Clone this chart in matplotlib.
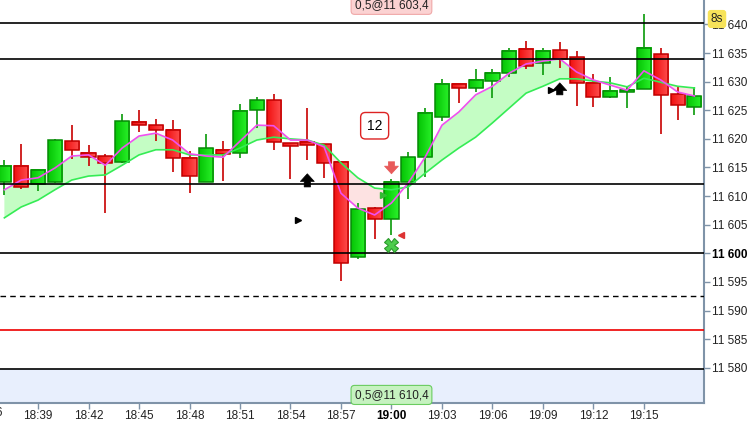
import numpy as np
import matplotlib.pyplot as plt
import matplotlib.transforms as mtransforms
from matplotlib.patches import Rectangle
from matplotlib.colors import LinearSegmentedColormap
from matplotlib.ticker import FixedLocator, FuncFormatter

plt.rcParams["font.family"] = ["Liberation Sans", "DejaVu Sans"]

# -------------------------------
# Data (1-minute candles, first one at 18:37)
# -------------------------------
first_candle = "18:37"

opens = [11612.5, 11615.3, 11612.1, 11612.5, 11619.6, 11617.5, 11617.0, 11616.0, 11623.0, 11622.4,
         11621.6, 11616.7, 11612.5, 11618.1, 11617.5, 11625.1, 11626.8, 11619.3, 11619.5, 11619.1,
         11616.0, 11599.4, 11607.9, 11606.0, 11612.5, 11616.8, 11623.8, 11629.6, 11628.9, 11630.1,
         11631.5, 11635.7, 11633.3, 11635.5, 11634.3, 11629.8, 11627.3, 11628.2, 11628.7, 11634.8,
         11627.8, 11625.6]
highs = [11616.3, 11619.1, 11614.7, 11619.9, 11622.4, 11618.9, 11617.4, 11624.4, 11625.1, 11623.5,
         11623.3, 11617.9, 11620.9, 11619.6, 11626.1, 11627.3, 11627.8, 11619.3, 11625.4, 11619.1,
         11616.0, 11608.8, 11608.1, 11613.0, 11617.7, 11625.4, 11630.5, 11629.6, 11632.2, 11632.2,
         11635.9, 11637.1, 11635.9, 11636.9, 11635.4, 11631.3, 11630.8, 11629.1, 11641.8, 11635.9,
         11629.1, 11629.1]
lows = [11610.2, 11611.2, 11610.9, 11612.3, 11616.5, 11615.3, 11607.0, 11615.8, 11621.2, 11619.6,
        11614.2, 11610.5, 11612.5, 11612.6, 11616.7, 11621.9, 11618.1, 11613.0, 11616.3, 11613.2,
        11595.2, 11599.0, 11602.5, 11603.2, 11609.5, 11613.3, 11623.1, 11626.3, 11628.2, 11627.2,
        11630.8, 11632.2, 11631.2, 11632.4, 11625.8, 11625.6, 11627.2, 11625.4, 11628.7, 11620.9,
        11623.3, 11624.2]
closes = [11615.3, 11611.6, 11614.6, 11619.8, 11618.1, 11616.8, 11615.8, 11623.1, 11622.4, 11621.6,
          11616.7, 11613.5, 11618.4, 11617.4, 11624.9, 11626.8, 11619.5, 11618.8, 11618.9, 11615.8,
          11598.3, 11607.7, 11606.0, 11612.5, 11616.8, 11624.5, 11629.6, 11628.9, 11630.3, 11631.5,
          11635.4, 11632.7, 11635.4, 11634.0, 11629.8, 11627.3, 11628.4, 11628.6, 11635.9, 11627.7,
          11625.9, 11627.5]

ma_fast = [11611.1, 11612.8, 11613.2, 11614.9, 11617.0, 11617.2, 11615.4, 11618.4, 11620.5, 11621.0,
           11619.8, 11617.4, 11617.0, 11616.8, 11619.6, 11622.4, 11622.3, 11619.8, 11619.8, 11618.6,
           11610.5, 11607.9, 11606.7, 11608.8, 11612.3, 11616.8, 11622.4, 11624.7, 11627.7, 11629.2,
           11631.5, 11633.1, 11633.6, 11634.0, 11631.7, 11630.3, 11629.4, 11628.5, 11631.9, 11630.3,
           11628.2, 11627.5]
ma_slow = [11606.2, 11608.1, 11609.3, 11611.1, 11612.8, 11613.5, 11613.7, 11615.4, 11617.2, 11618.1,
           11618.1, 11617.2, 11617.2, 11617.2, 11618.4, 11619.8, 11620.3, 11620.0, 11619.8, 11618.9,
           11615.8, 11613.2, 11611.4, 11611.1, 11611.6, 11614.0, 11616.3, 11618.4, 11620.3, 11622.8,
           11625.4, 11628.0, 11629.2, 11630.5, 11630.5, 11630.1, 11629.8, 11629.1, 11630.6, 11629.9,
           11629.2, 11628.9]

levels_solid = [11640.2, 11633.9, 11612.2, 11600.0, 11579.7]
level_dashed = 11592.6
level_red = 11586.6

time_ticks = ["18:36", "18:39", "18:42", "18:45", "18:48", "18:51", "18:54", "18:57",
              "19:00", "19:03", "19:06", "19:09", "19:12", "19:15"]
price_ticks = [11580, 11585, 11590, 11595, 11600, 11605, 11610, 11615,
               11620, 11625, 11630, 11635, 11640, 11645]

fill_label_top = "0,5@11 603,4"
fill_label_bottom = "0,5@11 610,4"


def to_min(t):
    h, m = t.split(":")
    return int(h) * 60 + int(m)


def idx_of(t):
    return to_min(t) - to_min(first_candle)


def fmt_price(v, pos=None):
    return f"{int(round(v)):,}".replace(",", " ")


# -------------------------------
# Figure
# -------------------------------
W, H = 756, 422
fig = plt.figure(figsize=(W / 100, H / 100), dpi=100)
ax = fig.add_axes([0, 19 / H, 704 / W, 403 / H])

n = len(opens)
x = np.arange(n)
xlim = (-0.26, 41.57)
ylim = (11573.83, 11644.28)

# area below lowest level
ax.axhspan(ylim[0], levels_solid[-1], color="#e8effd", zorder=0, lw=0)

# moving average band
fast = np.array(ma_fast)
slow = np.array(ma_slow)
ax.fill_between(x, fast, slow, where=fast >= slow, interpolate=True,
                color="#c4fdc4", lw=0, zorder=1)
ax.fill_between(x, fast, slow, where=fast < slow, interpolate=True,
                color="#fde2e2", lw=0, zorder=1)

# candles
green_cm = LinearSegmentedColormap.from_list("g", ["#05c405", "#2af22a"])
red_cm = LinearSegmentedColormap.from_list("r", ["#f01010", "#ff5050"])
grad = np.linspace(0, 1, 32).reshape(1, -1)
w = 0.84
for i in range(n):
    o, h, l, c = opens[i], highs[i], lows[i], closes[i]
    up = c >= o
    wick = "#089a08" if up else "#c80000"
    edge = "#078a07" if up else "#c00000"
    ax.vlines(i, l, h, color=wick, lw=1.2, zorder=3)
    lo, hi = min(o, c), max(o, c)
    ax.imshow(grad, extent=(i - w / 2, i + w / 2, lo, hi), aspect="auto",
              cmap=green_cm if up else red_cm, interpolation="bilinear", zorder=4)
    ax.add_patch(Rectangle((i - w / 2, lo), w, hi - lo, fill=False,
                           ec=edge, lw=1.1, zorder=5))

# MA lines
ax.plot(x, slow, color="#35ec55", lw=1.2, zorder=6)
ax.plot(x, fast, color="#f050f0", lw=1.2, zorder=6)

# horizontal levels
for lv in levels_solid:
    ax.axhline(lv, color="black", lw=1.2, zorder=7)
ax.axhline(level_dashed, color="black", lw=1.0, ls=(0, (4, 3)), zorder=7)
ax.axhline(level_red, color="#ee0000", lw=1.2, zorder=7)

# signal arrows / markers
def block_arrow(xi, tail, tip, color):
    ax.annotate("", xy=(xi, tip), xytext=(xi, tail),
                arrowprops=dict(arrowstyle="simple,head_length=0.55,head_width=1.0,tail_width=0.45",
                                fc=color, ec=color, lw=0.5, mutation_scale=10,
                                shrinkA=0, shrinkB=0),
                zorder=8)

block_arrow(18, 11611.6, 11613.9, "black")
block_arrow(33, 11627.7, 11629.8, "black")
block_arrow(23, 11616.0, 11613.9, "#e85a5a")
ax.plot(17.45, 11605.8, marker=">", color="black", ms=4, zorder=8)
ax.plot(32.48, 11628.5, marker=">", color="black", ms=4, zorder=8)
ax.plot(22.5, 11610.2, marker=">", color="#33bb33", ms=4, zorder=8)
ax.plot(23.57, 11603.2, marker="<", color="#dd3333", ms=4.5, zorder=8)
ax.plot(23.0, 11601.5, marker="X", color="#4ccc4c", mec="#2a9a2a", mew=0.8, ms=10, zorder=8)

ax.text(22, 11622.3, "12", ha="center", va="center", fontsize=10, color="black",
        bbox=dict(boxstyle="round,pad=0.45,rounding_size=0.35", fc="white", ec="#dd2222", lw=1),
        zorder=9)

# order labels
tr_xa = mtransforms.blended_transform_factory(ax.transData, ax.transAxes)
ax.text(23, 0.988, fill_label_top, transform=tr_xa, ha="center", va="center", fontsize=8.5,
        color="#222222",
        bbox=dict(boxstyle="round,pad=0.3,rounding_size=0.3", fc="#fbd2d2", ec="#f0a8a8", lw=0.8),
        zorder=9)
ax.text(23, 0.02, fill_label_bottom, transform=tr_xa, ha="center", va="center", fontsize=8.5,
        color="#222222",
        bbox=dict(boxstyle="round,pad=0.3,rounding_size=0.3", fc="#c6f2c0", ec="#6acc60", lw=0.8),
        zorder=9)

ax.set_xlim(*xlim)
ax.set_ylim(*ylim)

# axes styling
for s in ["left", "top"]:
    ax.spines[s].set_visible(False)
for s in ["right", "bottom"]:
    ax.spines[s].set_color("#7f93a8")
    ax.spines[s].set_linewidth(1.5)

ax.yaxis.tick_right()
ax.yaxis.set_major_locator(FixedLocator(price_ticks))
ax.yaxis.set_major_formatter(FuncFormatter(fmt_price))
ax.xaxis.set_major_locator(FixedLocator([idx_of(t) for t in time_ticks]))
ax.set_xticklabels(time_ticks)
ax.tick_params(axis="both", colors="#7f93a8", labelcolor="#222222", length=4, width=1,
               labelsize=8.5, pad=2)
ax.tick_params(axis="x", pad=1)

for lab in ax.get_xticklabels():
    if lab.get_text() == "19:00":
        lab.set_fontweight("bold")
        lab.set_color("black")
for lab, v in zip(ax.get_yticklabels(), price_ticks):
    if v == 11600:
        lab.set_fontweight("bold")
        lab.set_color("black")

# labels for ticks just outside the visible range
ax.annotate(fmt_price(11645), xy=(1.0, 11645), xycoords=("axes fraction", "data"),
            xytext=(6, 0), textcoords="offset points", ha="left", va="center",
            fontsize=8.5, color="#222222", annotation_clip=False)
ax.annotate("18:36", xy=(idx_of("18:36"), 0), xycoords=("data", "axes fraction"),
            xytext=(0, -3), textcoords="offset points", ha="center", va="top",
            fontsize=8.5, color="#222222", annotation_clip=False)

# timer badge
fig.text(717 / W, 1 - 19 / H, "8s", ha="center", va="center", fontsize=8.5, color="#222222",
         bbox=dict(boxstyle="round,pad=0.2,rounding_size=0.2", fc="#f7e35a", ec="#f7e35a"),
         zorder=10)

fig.savefig("out.png", dpi=100, facecolor="white")
